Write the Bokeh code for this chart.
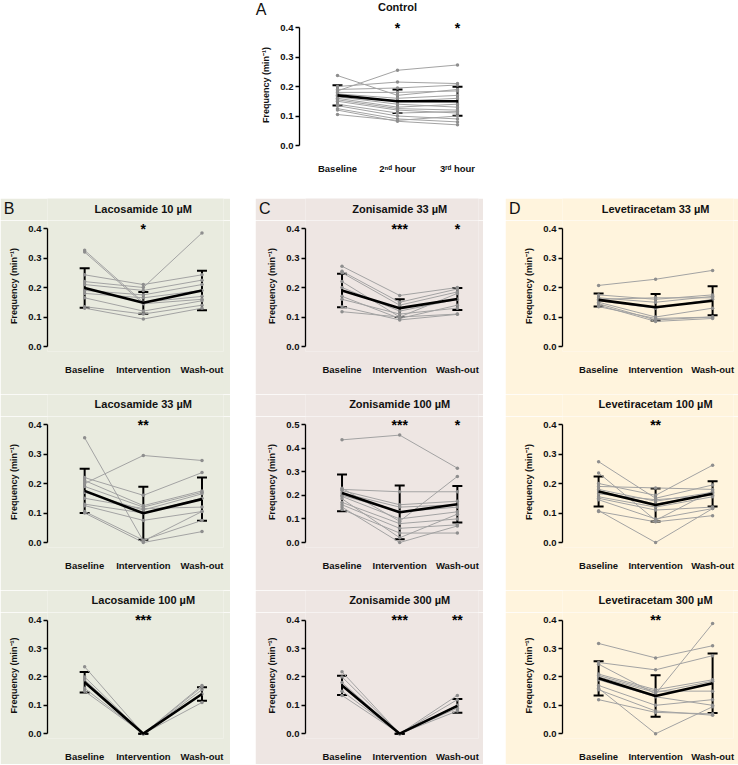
from bokeh.plotting import figure
from bokeh.layouts import column, row, Spacer
from bokeh.models import (LinearAxis, FixedTicker, NumeralTickFormatter, Whisker,
                          TeeHead, ColumnDataSource, Range1d)
from bokeh.embed import file_html
from bokeh.resources import INLINE
from bokeh.core.properties import value

# ---------------- data ----------------
x_pos = [1, 2, 3]
cats_ctrl = ["Baseline", "2ⁿᵈ hour", "3ʳᵈ hour"]
cats_drug = ["Baseline", "Intervention", "Wash-out"]
ticks_04 = [0.0, 0.1, 0.2, 0.3, 0.4]
ticks_05 = [0.0, 0.1, 0.2, 0.3, 0.4, 0.5]

ctrl = [[0.237, 0.17, 0.19], [0.185, 0.255, 0.273], [0.20, 0.215, 0.21],
        [0.19, 0.195, 0.205], [0.18, 0.18, 0.185], [0.175, 0.16, 0.17],
        [0.17, 0.15, 0.16], [0.165, 0.14, 0.13], [0.16, 0.13, 0.14],
        [0.155, 0.125, 0.12], [0.15, 0.12, 0.11], [0.14, 0.11, 0.115],
        [0.135, 0.10, 0.09], [0.125, 0.09, 0.08], [0.12, 0.082, 0.07],
        [0.105, 0.085, 0.10]]
ctrl_mean = [0.170, 0.150, 0.150]
ctrl_sd = [0.034, 0.040, 0.049]
ctrl_stars = ["", "*", "*"]

lac10 = [[0.326, 0.15, 0.17], [0.32, 0.145, 0.16], [0.243, 0.21, 0.243],
         [0.22, 0.20, 0.385], [0.21, 0.19, 0.225], [0.19, 0.175, 0.21],
         [0.18, 0.165, 0.19], [0.165, 0.12, 0.155], [0.135, 0.11, 0.14],
         [0.13, 0.093, 0.13]]
lac10_mean = [0.198, 0.148, 0.190]
lac10_sd = [0.067, 0.037, 0.067]
lac10_stars = ["", "*", ""]

lac33 = [[0.355, 0.005, 0.105], [0.20, 0.295, 0.278], [0.22, 0.16, 0.237],
         [0.21, 0.125, 0.175], [0.19, 0.12, 0.17], [0.17, 0.11, 0.165],
         [0.15, 0.115, 0.12], [0.13, 0.10, 0.15], [0.125, 0.075, 0.105],
         [0.105, 0.008, 0.075], [0.10, 0.0, 0.037]]
lac33_mean = [0.175, 0.099, 0.147]
lac33_sd = [0.075, 0.090, 0.073]
lac33_stars = ["", "**", ""]

lac100 = [[0.236, 0.0, 0.165], [0.20, 0.0, 0.17], [0.19, 0.0, 0.155],
          [0.16, 0.0, 0.14], [0.15, 0.0, 0.11]]
lac100_mean = [0.181, 0.0, 0.140]
lac100_sd = [0.036, 0.0, 0.024]
lac100_stars = ["", "***", ""]

zon33 = [[0.272, 0.173, 0.20], [0.255, 0.15, 0.195], [0.25, 0.14, 0.185],
         [0.22, 0.10, 0.18], [0.20, 0.12, 0.16], [0.17, 0.095, 0.14],
         [0.16, 0.11, 0.13], [0.135, 0.09, 0.109], [0.118, 0.10, 0.11]]
zon33_mean = [0.190, 0.130, 0.161]
zon33_sd = [0.057, 0.030, 0.037]
zon33_stars = ["", "***", "*"]

zon100 = [[0.435, 0.455, 0.315], [0.23, 0.09, 0.28], [0.225, 0.215, 0.215],
          [0.22, 0.16, 0.175], [0.21, 0.15, 0.16], [0.20, 0.13, 0.15],
          [0.195, 0.10, 0.13], [0.185, 0.02, 0.12], [0.17, 0.08, 0.10],
          [0.16, 0.06, 0.075], [0.15, 0.0, 0.07], [0.14, 0.04, 0.04]]
zon100_mean = [0.210, 0.128, 0.162]
zon100_sd = [0.078, 0.114, 0.077]
zon100_stars = ["", "***", "*"]

zon300 = [[0.218, 0.0, 0.135], [0.20, 0.0, 0.12], [0.18, 0.0, 0.10],
          [0.15, 0.0, 0.09], [0.135, 0.0, 0.08]]
zon300_mean = [0.170, 0.0, 0.098]
zon300_sd = [0.034, 0.0, 0.024]
zon300_stars = ["", "***", "**"]

lev33 = [[0.207, 0.228, 0.258], [0.175, 0.16, 0.175], [0.165, 0.15, 0.17],
         [0.16, 0.165, 0.165], [0.155, 0.13, 0.16], [0.15, 0.10, 0.13],
         [0.145, 0.09, 0.10], [0.14, 0.085, 0.095], [0.135, 0.095, 0.10]]
lev33_mean = [0.158, 0.133, 0.155]
lev33_sd = [0.022, 0.045, 0.049]
lev33_stars = ["", "", ""]

lev100 = [[0.274, 0.15, 0.195], [0.236, 0.075, 0.175], [0.20, 0.16, 0.262],
          [0.19, 0.185, 0.18], [0.18, 0.14, 0.17], [0.175, 0.13, 0.165],
          [0.165, 0.145, 0.16], [0.155, 0.12, 0.155], [0.15, 0.11, 0.12],
          [0.145, 0.08, 0.115], [0.108, 0.0, 0.115], [0.105, 0.07, 0.091]]
lev100_mean = [0.173, 0.127, 0.165]
lev100_sd = [0.051, 0.056, 0.043]
lev100_stars = ["", "**", ""]

lev300 = [[0.318, 0.267, 0.31], [0.251, 0.225, 0.275], [0.245, 0.14, 0.388],
          [0.21, 0.155, 0.19], [0.205, 0.15, 0.15], [0.20, 0.145, 0.185],
          [0.19, 0.13, 0.10], [0.17, 0.10, 0.12], [0.16, 0.0, 0.095],
          [0.155, 0.08, 0.065], [0.12, 0.075, 0.07]]
lev300_mean = [0.195, 0.133, 0.178]
lev300_sd = [0.060, 0.073, 0.105]
lev300_stars = ["", "**", ""]

# ---------------- style ----------------
FONT = "Liberation Sans"
BG_B = "#E9EBDF"
BG_C = "#EEE6E3"
BG_D = "#FFF4DD"
GREY_LINE = "#a3a3a3"
GREY_PT = "#8e8e8e"
X_START = 1 - 38.0 / 60.0


def make_header(width, height, left, frame_w, title, bg, title_y,
                letter=None, letter_y=0, letter_standoff=0):
    """Strip holding the panel title (centred over the middle group); the
    panel letter is drawn as the label of a tick-less left axis."""
    x_end = X_START + frame_w / 60.0
    h = figure(width=width, height=height, x_range=Range1d(X_START, x_end),
               y_range=Range1d(0, height), output_backend="svg",
               toolbar_location=None, x_axis_type=None, y_axis_type=None,
               min_border_left=left, min_border_right=width - left - frame_w,
               min_border_top=0, min_border_bottom=0,
               background_fill_color=bg, border_fill_color=bg,
               outline_line_color=None)
    h.xgrid.visible = False
    h.ygrid.visible = False
    h.text(x=[x_pos[1]], y=[title_y], text=[title], text_align="center",
           text_baseline="middle", text_font=value(FONT),
           text_font_style="bold", text_font_size="11px", text_color="#111111")
    if letter:
        lax = LinearAxis(ticker=FixedTicker(ticks=[letter_y]),
                         major_label_overrides={letter_y: letter})
        lax.axis_line_color = None
        lax.major_tick_line_color = None
        lax.minor_tick_line_color = None
        lax.major_label_standoff = letter_standoff
        lax.major_label_text_font = FONT
        lax.major_label_text_font_size = "16px"
        lax.major_label_text_color = "#111111"
        h.add_layout(lax, "left")
    return h


def make_panel(subjects, mean, sd, stars, cats, yticks, width, height,
               left, frame_w, zero_rel, bg):
    ymax = yticks[-1]
    px = 118.0 / ymax
    y_end = zero_rel / px
    y_start = -5.0 / px
    x_end = X_START + frame_w / 60.0
    p = figure(width=width, height=height,
               x_range=Range1d(X_START, x_end), y_range=Range1d(y_start, y_end),
               output_backend="svg", toolbar_location=None,
               x_axis_type=None, y_axis_type=None,
               min_border_left=left, min_border_right=width - left - frame_w,
               min_border_top=0, min_border_bottom=height - (zero_rel + 5),
               background_fill_color=bg, border_fill_color=bg,
               outline_line_color=None)
    p.xgrid.visible = False
    p.ygrid.visible = False

    yax = LinearAxis(ticker=FixedTicker(ticks=yticks),
                     formatter=NumeralTickFormatter(format="0.0"),
                     bounds=(0, ymax), axis_label="Frequency (min⁻¹)")
    yax.axis_line_width = 1.3
    yax.major_tick_line_width = 1.3
    yax.major_tick_out = 4
    yax.major_tick_in = 0
    yax.minor_tick_line_color = None
    yax.major_label_standoff = 2
    yax.axis_label_standoff = 6
    yax.major_label_text_font = FONT
    yax.major_label_text_font_style = "bold"
    yax.major_label_text_font_size = "9.5px"
    yax.major_label_text_color = "#111111"
    yax.axis_label_text_font = FONT
    yax.axis_label_text_font_style = "bold"
    yax.axis_label_text_font_size = "9px"
    yax.axis_label_text_color = "#111111"
    p.add_layout(yax, "left")

    xax = LinearAxis(ticker=FixedTicker(ticks=x_pos),
                     major_label_overrides={x_pos[i]: cats[i] for i in range(3)})
    xax.axis_line_color = None
    xax.major_tick_line_color = None
    xax.minor_tick_line_color = None
    xax.major_label_standoff = 6
    xax.major_label_text_font = FONT
    xax.major_label_text_font_style = "bold"
    xax.major_label_text_font_size = "9.5px"
    xax.major_label_text_color = "#111111"
    p.add_layout(xax, "below")

    n = len(subjects)
    p.multi_line(xs=[x_pos] * n, ys=subjects, line_color=GREY_LINE, line_width=1)
    px_all = [x for s in subjects for x in x_pos]
    py_all = [v for s in subjects for v in s]
    p.scatter(x=px_all, y=py_all, size=3.5, fill_color=GREY_PT, line_color=None)

    p.line(x=x_pos, y=mean, line_color="black", line_width=2.6)
    src = ColumnDataSource(dict(x=x_pos,
                                upper=[m + s for m, s in zip(mean, sd)],
                                lower=[m - s for m, s in zip(mean, sd)]))
    w = Whisker(base="x", upper="upper", lower="lower", source=src,
                line_color="black", line_width=2,
                upper_head=TeeHead(size=10, line_width=2, line_color="black"),
                lower_head=TeeHead(size=10, line_width=2, line_color="black"))
    p.add_layout(w)

    p.text(x=x_pos, y=[ymax] * 3, text=stars, text_align="center",
           text_baseline="middle", text_font=value(FONT),
           text_font_style="bold", text_font_size="14px", text_color="black")
    return p


# ---------------- layout ----------------
A_W, A_LEFT, A_FW = 738, 299, 200
A_HDR = 19
hdrA = make_header(A_W, A_HDR, A_LEFT, A_FW, "Control", "white", A_HDR - 6,
                   letter="A", letter_y=A_HDR - 8, letter_standoff=27)
pA = make_panel(ctrl, ctrl_mean, ctrl_sd, ctrl_stars, cats_ctrl, ticks_04,
                A_W, 198 - A_HDR, A_LEFT, A_FW, 145 - A_HDR, "white")

HDR = 22
row_h = [196, 196, 174]
title_off = [10, 9, 9]


def col_panels(specs, width, left, frame_w, bg, letter, letter_standoff):
    items = []
    for i, (subj, m, s, st, t, ticks) in enumerate(specs):
        items.append(make_header(width, HDR, left, frame_w, t, bg,
                                 HDR - title_off[i],
                                 letter=letter if i == 0 else None,
                                 letter_y=HDR - 10,
                                 letter_standoff=letter_standoff))
        items.append(make_panel(subj, m, s, st, cats_drug, ticks, width,
                                row_h[i] - HDR, left, frame_w, 148 - HDR, bg))
    return column(*items, spacing=0)


colB = col_panels([
    (lac10, lac10_mean, lac10_sd, lac10_stars, "Lacosamide 10 µM", ticks_04),
    (lac33, lac33_mean, lac33_sd, lac33_stars, "Lacosamide 33 µM", ticks_04),
    (lac100, lac100_mean, lac100_sd, lac100_stars, "Lacosamide 100 µM", ticks_04),
], 230, 43, 180, BG_B, "B", 27)

colC = col_panels([
    (zon33, zon33_mean, zon33_sd, zon33_stars, "Zonisamide 33 µM", ticks_04),
    (zon100, zon100_mean, zon100_sd, zon100_stars, "Zonisamide 100 µM", ticks_05),
    (zon300, zon300_mean, zon300_sd, zon300_stars, "Zonisamide 300 µM", ticks_04),
], 228, 43, 180, BG_C, "C", 29)

colD = col_panels([
    (lev33, lev33_mean, lev33_sd, lev33_stars, "Levetiracetam 33 µM", ticks_04),
    (lev100, lev100_mean, lev100_sd, lev100_stars, "Levetiracetam 100 µM", ticks_04),
    (lev300, lev300_mean, lev300_sd, lev300_stars, "Levetiracetam 300 µM", ticks_04),
], 233, 48, 180, BG_D, "D", 36)

bottom = row(colB, Spacer(width=25), colC, Spacer(width=22), colD, spacing=0)
layout = column(hdrA, pA, bottom, spacing=0)

open("out.html", "w").write(file_html(layout, INLINE))
